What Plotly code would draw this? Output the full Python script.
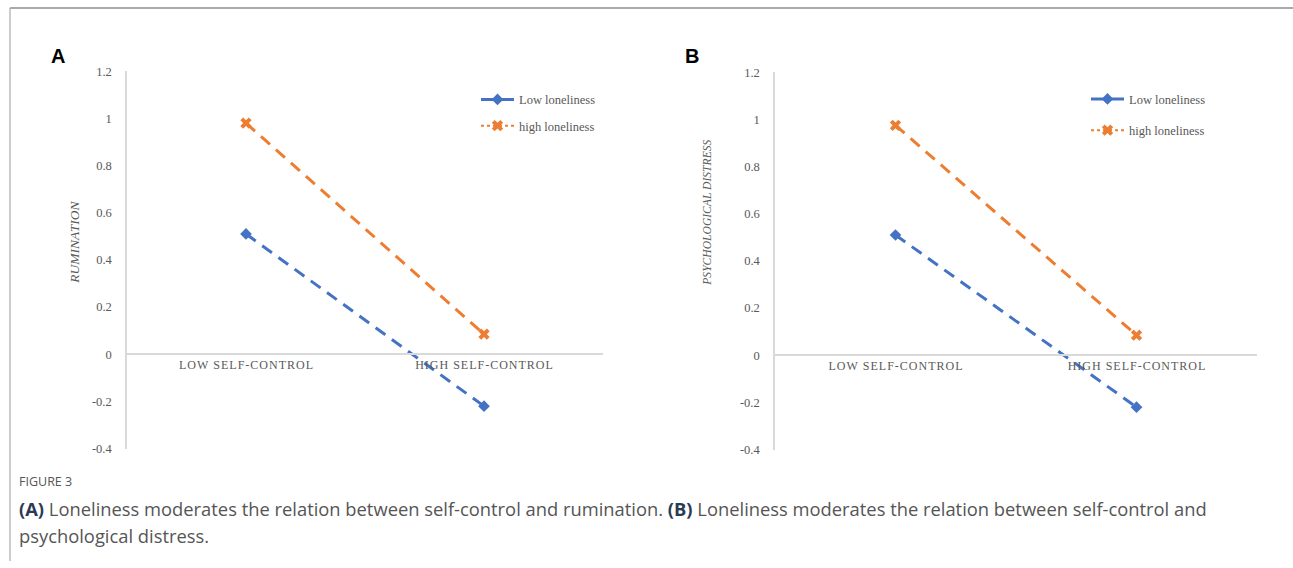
import plotly.graph_objects as go

W, H = 1293, 568

categories = ["LOW SELF-CONTROL", "HIGH SELF-CONTROL"]
rum_low = [0.51, -0.22]
rum_high = [0.98, 0.085]
dis_low = [0.51, -0.22]
dis_high = [0.975, 0.085]
y_ticks = [-0.4, -0.2, 0, 0.2, 0.4, 0.6, 0.8, 1, 1.2]
y_ticktext = ["-0.4", "-0.2", "0", "0.2", "0.4", "0.6", "0.8", "1", "1.2"]
series_names = ["Low loneliness", "high loneliness"]

BLUE = "#4472C4"
ORANGE = "#ED7D31"
GRAY = "#595959"
SERIF = "Liberation Serif, Times New Roman, serif"
SANS = "Open Sans, Noto Sans, sans-serif"

# page-pixel -> paper helpers (the page shows the figure in an area 552 px tall, 8 px down)
TOP, HV = 8, 552

def px(x):
    return x / W

def py(y):
    return 1 - (y - TOP) / HV

# letter-spaced category labels (hair spaces between characters)
cat_text = ["\u200a".join(c) for c in categories]

fig = go.Figure()

panels = [
    dict(x="x", y="y", low=rum_low, high=rum_high, legend="legend"),
    dict(x="x2", y="y2", low=dis_low, high=dis_high, legend="legend2"),
]

for p in panels:
    fig.add_trace(go.Scatter(
        x=categories, y=p["low"], xaxis=p["x"], yaxis=p["y"], mode="lines+markers",
        line=dict(color=BLUE, width=3, dash="12px,8px"),
        marker=dict(symbol="diamond", size=9, color=BLUE),
        showlegend=False, name=series_names[0]))
    fig.add_trace(go.Scatter(
        x=categories, y=p["high"], xaxis=p["x"], yaxis=p["y"], mode="lines+markers",
        line=dict(color=ORANGE, width=3, dash="12px,8px"),
        marker=dict(symbol="x", size=10, color=ORANGE),
        showlegend=False, name=series_names[1]))
    fig.add_trace(go.Scatter(
        x=[None], y=[None], xaxis=p["x"], yaxis=p["y"], mode="lines+markers",
        line=dict(color=BLUE, width=3, dash="solid"),
        marker=dict(symbol="diamond", size=9, color=BLUE),
        name=series_names[0], legend=p["legend"], legendgroup="a"))
    fig.add_trace(go.Scatter(
        x=[None], y=[None], xaxis=p["x"], yaxis=p["y"], mode="lines+markers",
        line=dict(color=ORANGE, width=2, dash="dot"),
        marker=dict(symbol="x", size=10, color=ORANGE),
        name=series_names[1], legend=p["legend"], legendgroup="b"))

xax = dict(type="category", showline=True, linecolor="#d9d9d9", linewidth=1.5,
           ticks="", showgrid=False, zeroline=False, anchor="free",
           tickvals=categories, ticktext=cat_text,
           tickfont=dict(family=SERIF, size=12, color=GRAY), range=[-0.5, 1.5])
yax = dict(range=[-0.4, 1.2], tickvals=y_ticks, ticktext=y_ticktext, showgrid=False,
           zeroline=False, showline=True, linecolor="#d9d9d9", linewidth=1.5,
           ticks="", ticklabelstandoff=11,
           tickfont=dict(family=SERIF, size=12.5, color=GRAY))

fig.update_layout(
    width=W, height=H, autosize=False, margin=dict(l=0, r=0, t=0, b=0, pad=0),
    paper_bgcolor="white", plot_bgcolor="white",
    xaxis=dict(xax, domain=[px(127), px(603)], position=py(354)),
    yaxis=dict(yax, domain=[py(448), py(72)], anchor="x"),
    xaxis2=dict(xax, domain=[px(775), px(1257)], position=py(355)),
    yaxis2=dict(yax, domain=[py(449), py(73)], anchor="x2"),
    legend=dict(x=px(476), y=py(85.5), xanchor="left", yanchor="top",
                bgcolor="rgba(0,0,0,0)", tracegroupgap=7,
                font=dict(family=SERIF, size=12.5, color=GRAY), itemwidth=33),
    legend2=dict(x=px(1086), y=py(85), xanchor="left", yanchor="top",
                 bgcolor="rgba(0,0,0,0)", tracegroupgap=12,
                 font=dict(family=SERIF, size=12.5, color=GRAY), itemwidth=33),
    showlegend=True,
)

annotations = [
    dict(text="<b>A</b>", x=px(49), y=py(57), xanchor="left", yanchor="middle",
         font=dict(family="Liberation Sans, Arial, sans-serif", size=20, color="black")),
    dict(text="<b>B</b>", x=px(683), y=py(57), xanchor="left", yanchor="middle",
         font=dict(family="Liberation Sans, Arial, sans-serif", size=20, color="black")),
    dict(text="RUMINATION", x=px(75), y=py(243), textangle=-90, xanchor="center", yanchor="middle",
         font=dict(family=SERIF, size=13.5, color=GRAY, style="italic")),
    dict(text="PSYCHOLOGICAL DISTRESS", x=px(708), y=py(213), textangle=-90, xanchor="center", yanchor="middle",
         font=dict(family=SERIF, size=11.6, color=GRAY, style="italic")),
    dict(text="FIGURE 3", x=px(16.5), y=py(481), xanchor="left", yanchor="middle",
         font=dict(family=SANS, size=12.5, color="#555555")),
    dict(text="<b><span style='color:#2b3a55'>(A)</span></b> Loneliness moderates the relation between self-control and rumination. "
              "<b><span style='color:#2b3a55'>(B)</span></b> Loneliness moderates the relation between self-control and",
         x=px(16.5), y=py(508), xanchor="left", yanchor="middle",
         font=dict(family=SANS, size=18.35, color="#555555")),
    dict(text="psychological distress.", x=px(16.5), y=py(535), xanchor="left", yanchor="middle",
         font=dict(family=SANS, size=18.35, color="#555555")),
]
for a in annotations:
    a.update(xref="paper", yref="paper", showarrow=False)
fig.update_layout(annotations=annotations)

fig.update_layout(shapes=[
    dict(type="line", xref="paper", yref="paper", x0=px(10), x1=1.0, y0=py(9), y1=py(9),
         line=dict(color="#aaaaaa", width=2)),
    dict(type="line", xref="paper", yref="paper", x0=px(10), x1=px(10), y0=py(9), y1=0,
         line=dict(color="#999999", width=1)),
])

fig.write_html(
    "out.html",
    config={"displayModeBar": False, "responsive": False},
    post_script="document.documentElement.style.margin='0';document.documentElement.style.overflow='hidden';"
                "document.body.style.margin='0';document.body.style.padding='0';document.body.style.overflow='hidden';",
)
